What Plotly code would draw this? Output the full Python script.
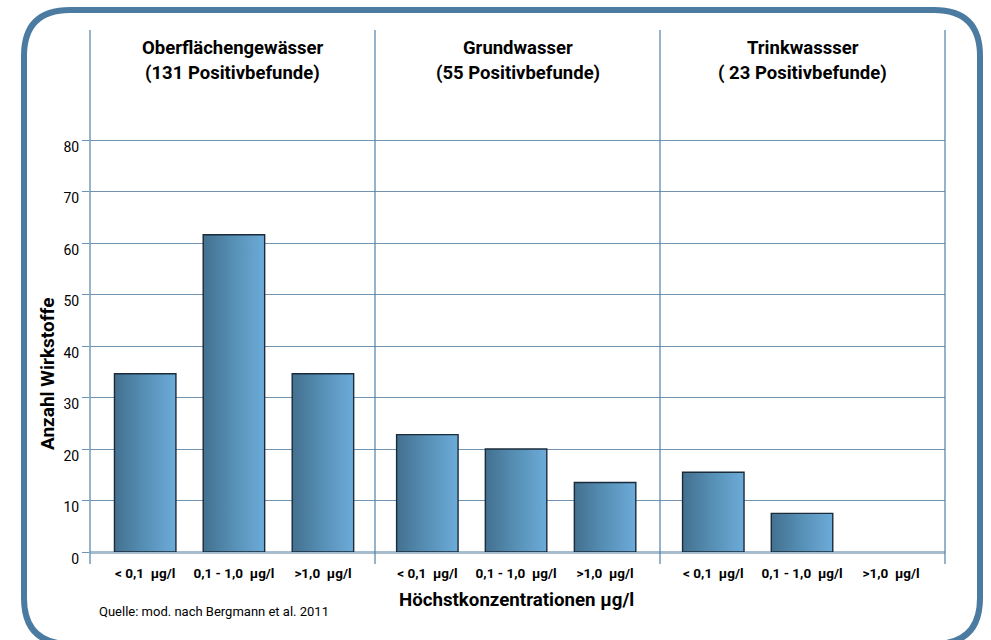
import plotly.graph_objects as go

# ---------------- data ----------------
panel_titles = ["Oberflächengewässer", "Grundwasser", "Trinkwassser"]
panel_subtitles = ["(131 Positivbefunde)", "(55 Positivbefunde)", "( 23 Positivbefunde)"]
categories = ["< 0,1 \u00a0µg/l", "0,1 - 1,0 \u00a0µg/l", ">1,0 \u00a0µg/l"]
oberflaeche = [34.6, 61.6, 34.6]
grundwasser = [22.8, 20.0, 13.5]
trinkwasser = [15.5, 7.5, 0]
y_ticks = [0, 10, 20, 30, 40, 50, 60, 70, 80]

series = [oberflaeche, grundwasser, trinkwasser]

# ---------------- layout constants ----------------
W, H = 991, 640
ML, MR, MT, MB = 90, 46, 138, 88
PW = W - ML - MR
PH = H - MT - MB
Y_TOP = 80 + 2 * 80 / 412.0   # so that 80 sits at pixel 140
BAR_OFFSETS = [0.551, 1.485, 2.422]
PANEL_SHIFT = [0.03, 0.0, 0.01]
BAR_W = 0.647
FONT = "Roboto, Liberation Sans, sans-serif"
GRID = "#6f93b1"
LINEC = "#4f80a6"


def px_x(px):
    return (px - ML) / PW


def px_y(py):
    return (H - MB - py) / PH


fig = go.Figure()

tickvals, ticktext = [], []
for p, vals in enumerate(series):
    for i, v in enumerate(vals):
        c = 3 * p + BAR_OFFSETS[i] + PANEL_SHIFT[p]
        tickvals.append(c)
        ticktext.append(categories[i])
        if v <= 0:
            continue
        x0, x1 = c - BAR_W / 2, c + BAR_W / 2
        fig.add_trace(go.Scatter(
            x=[x0, x0, x1, x1, x0], y=[0, v, v, 0, 0],
            mode="lines", fill="toself",
            fillgradient=dict(type="horizontal",
                              colorscale=[[0, "#43708f"], [0.5, "#5790b6"], [1, "#6cabd9"]]),
            line=dict(color="#1b2b3a", width=1.4),
            hoverinfo="skip", showlegend=False,
        ))

shapes = []
# vertical panel separators
for k in range(4):
    xp = k / 3
    shapes.append(dict(type="line", xref="paper", yref="paper",
                       x0=xp, x1=xp, y0=px_y(30), y1=px_y(564),
                       line=dict(color=LINEC, width=1.2), layer="above"))

# rounded border
x0b, x1b, y0b, y1b, r = 24, 980, 10, 644, 46
path = (f"M {px_x(x0b + r)},{px_y(y0b)} L {px_x(x1b - r)},{px_y(y0b)} "
        f"Q {px_x(x1b)},{px_y(y0b)} {px_x(x1b)},{px_y(y0b + r)} "
        f"L {px_x(x1b)},{px_y(y1b - r)} "
        f"Q {px_x(x1b)},{px_y(y1b)} {px_x(x1b - r)},{px_y(y1b)} "
        f"L {px_x(x0b + r)},{px_y(y1b)} "
        f"Q {px_x(x0b)},{px_y(y1b)} {px_x(x0b)},{px_y(y1b - r)} "
        f"L {px_x(x0b)},{px_y(y0b + r)} "
        f"Q {px_x(x0b)},{px_y(y0b)} {px_x(x0b + r)},{px_y(y0b)} Z")
shapes.append(dict(type="path", xref="paper", yref="paper", path=path,
                   line=dict(color="#4b7ba0", width=6), layer="above"))

annotations = []
for p in range(3):
    cx = (p + 0.5) / 3
    annotations.append(dict(x=cx, y=px_y(48), xref="paper", yref="paper",
                            text=panel_titles[p], showarrow=False,
                            font=dict(family=FONT, size=18.5, color="black", weight="bold"),
                            xanchor="center", yanchor="middle"))
    annotations.append(dict(x=cx, y=px_y(73), xref="paper", yref="paper",
                            text=panel_subtitles[p], showarrow=False,
                            font=dict(family=FONT, size=18.5, color="black", weight="bold"),
                            xanchor="center", yanchor="middle"))

annotations.append(dict(x=px_x(47), y=px_y(374), xref="paper", yref="paper",
                        text="Anzahl Wirkstoffe", textangle=-90, showarrow=False,
                        font=dict(family=FONT, size=19, color="black", weight="bold"),
                        xanchor="center", yanchor="middle"))
annotations.append(dict(x=px_x(516), y=px_y(600), xref="paper", yref="paper",
                        text="Höchstkonzentrationen µg/l", showarrow=False,
                        font=dict(family=FONT, size=18.7, color="black", weight="bold"),
                        xanchor="center", yanchor="middle"))
annotations.append(dict(x=px_x(97), y=px_y(611), xref="paper", yref="paper",
                        text="Quelle: mod. nach Bergmann et al. 2011", showarrow=False,
                        font=dict(family=FONT, size=13, color="black"),
                        xanchor="left", yanchor="middle"))

fig.update_layout(
    width=W, height=H, autosize=False,
    margin=dict(l=ML, r=MR, t=MT, b=MB, pad=0),
    paper_bgcolor="white", plot_bgcolor="white",
    shapes=shapes, annotations=annotations,
    showlegend=False,
    xaxis=dict(range=[0, 9], showgrid=False, zeroline=False, showline=False,
               tickmode="array", tickvals=tickvals, ticktext=ticktext,
               ticks="outside", ticklen=9, tickcolor="rgba(0,0,0,0)",
               tickfont=dict(family=FONT, size=13.5, color="black", weight="bold"),
               fixedrange=True),
    yaxis=dict(range=[0, Y_TOP], tickmode="array", tickvals=y_ticks,
               showgrid=True, gridcolor=GRID, gridwidth=1.3,
               zeroline=True, zerolinecolor="#a7bccc", zerolinewidth=3,
               showline=False, ticks="outside", ticklen=7, tickcolor=GRID, tickwidth=1.3,
               ticklabelshift=7,
               tickfont=dict(family=FONT, size=14, color="black"),
               fixedrange=True),
)

fig.write_html("out.html")
